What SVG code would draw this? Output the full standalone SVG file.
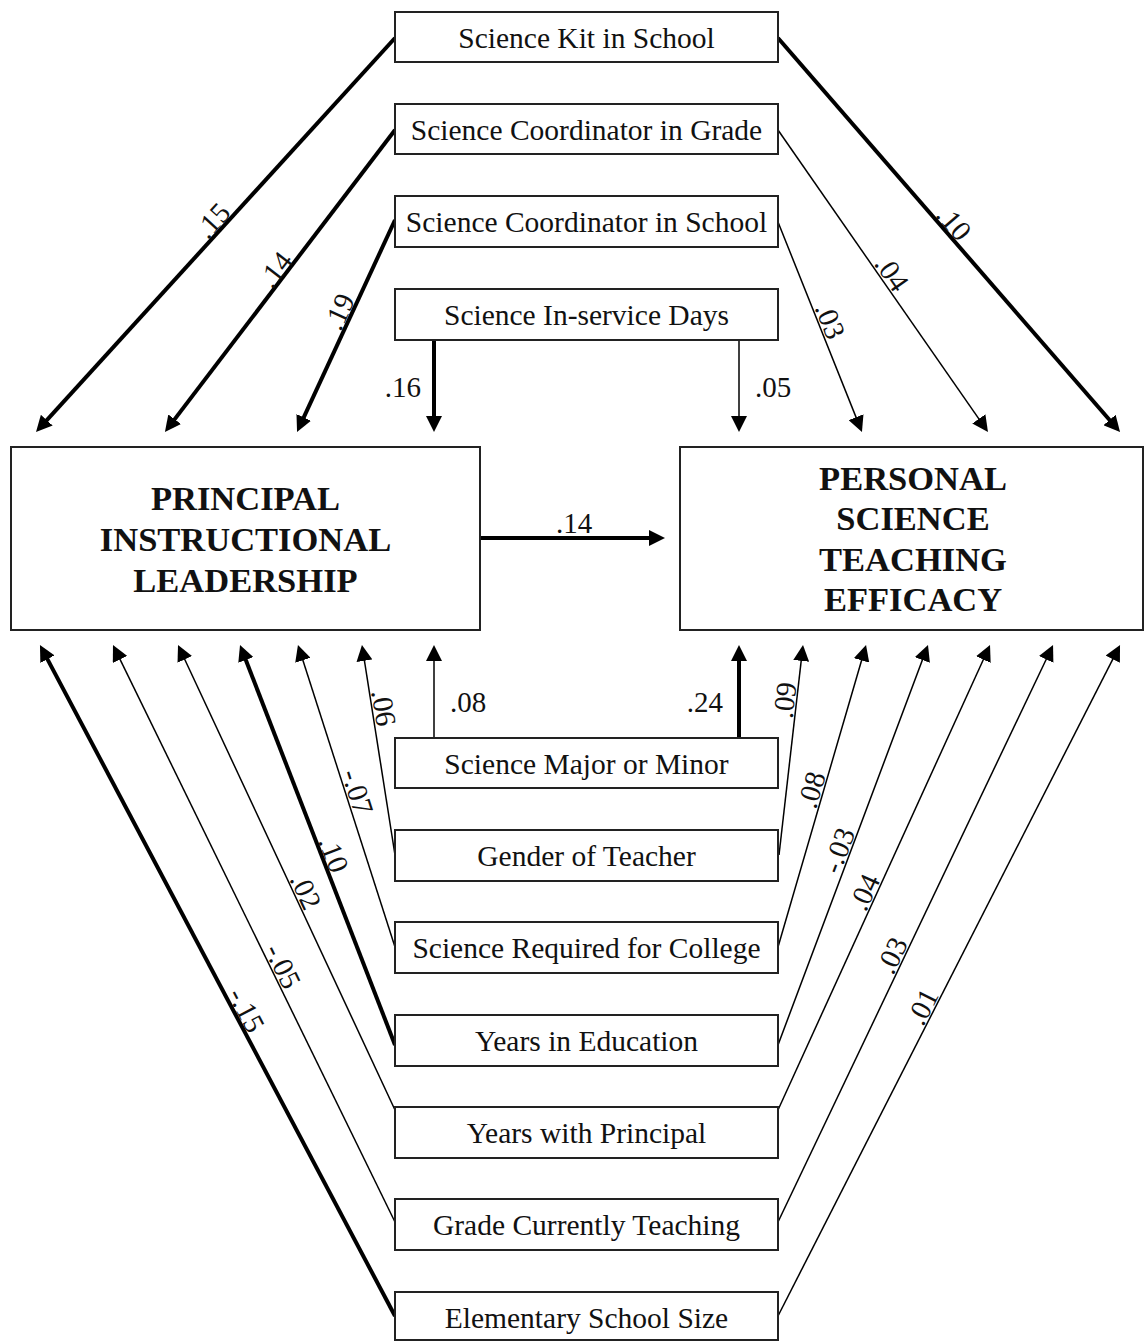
<svg xmlns="http://www.w3.org/2000/svg" width="1146" height="1341" viewBox="0 0 1146 1341">
<defs>
<style>
.box{fill:#fff;stroke:#222;stroke-width:2}
.nt{font-family:"Liberation Serif","Times New Roman",serif;font-size:29.5px;fill:#111;text-anchor:middle}
.big{font-family:"Liberation Serif","Times New Roman",serif;font-size:34.5px;font-weight:bold;fill:#111;text-anchor:middle}
.lbl{font-family:"Liberation Serif","Times New Roman",serif;font-size:29px;fill:#111;text-anchor:middle}
.thick{stroke:#000;stroke-width:4;fill:none;marker-end:url(#ah)}
.thin{stroke:#000;stroke-width:1.5;fill:none;marker-end:url(#ah)}
</style>
<marker id="ah" markerUnits="userSpaceOnUse" markerWidth="16" markerHeight="16" refX="8" refY="8" orient="auto">
<path d="M0,0 L16,8 L0,16 Z" fill="#000"/>
</marker>
</defs>
<rect width="1146" height="1341" fill="#fff"/>

<g id="connectors">
<line class="thick" x1="395" y1="38" x2="41.4" y2="426.1"/>
<line class="thick" x1="395" y1="130" x2="169.8" y2="425.6"/>
<line class="thick" x1="395" y1="220" x2="300.4" y2="424.7"/>
<line class="thick" x1="434" y1="340" x2="434" y2="424"/>
<line class="thin" x1="739" y1="340" x2="739" y2="424"/>
<line class="thin" x1="778" y1="222" x2="859" y2="424.6"/>
<line class="thin" x1="778" y1="130" x2="983.4" y2="425.4"/>
<line class="thick" x1="778" y1="38" x2="1114.8" y2="426"/>
<line class="thick" x1="480" y1="538" x2="657" y2="538"/>
<line class="thin" x1="434" y1="738" x2="434" y2="653"/>
<line class="thin" x1="395" y1="855" x2="363.2" y2="652.9"/>
<line class="thin" x1="395" y1="947" x2="300.4" y2="652.6"/>
<line class="thick" x1="395" y1="1045" x2="242.9" y2="652.5"/>
<line class="thin" x1="395" y1="1110" x2="181.4" y2="652.2"/>
<line class="thin" x1="395" y1="1222" x2="116.5" y2="652.2"/>
<line class="thick" x1="395" y1="1316" x2="43.7" y2="652.1"/>
<line class="thick" x1="739" y1="738" x2="739" y2="653"/>
<line class="thin" x1="779" y1="855" x2="802.1" y2="652.9"/>
<line class="thin" x1="778" y1="947" x2="863.8" y2="652.7"/>
<line class="thin" x1="778" y1="1045" x2="925.2" y2="652.5"/>
<line class="thin" x1="778" y1="1110" x2="986.7" y2="652.3"/>
<line class="thin" x1="778" y1="1222" x2="1049.6" y2="652.2"/>
<line class="thin" x1="778" y1="1316" x2="1116.4" y2="652.1"/>

<text class="lbl" transform="translate(221.4,228.5) rotate(-47.7)" y="-2">.15</text>
<text class="lbl" transform="translate(284.7,276.9) rotate(-52.3)" y="-2">.14</text>
<text class="lbl" transform="translate(349.8,316.7) rotate(-65.4)" y="-2">.19</text>
<text class="lbl" x="421" y="397" style="text-anchor:end">.16</text>
<text class="lbl" x="755" y="397" style="text-anchor:start">.05</text>
<text class="lbl" transform="translate(819.3,325.2) rotate(68.2)" y="-2">.03</text>
<text class="lbl" transform="translate(882.2,279.8) rotate(55.2)" y="-2">.04</text>
<text class="lbl" transform="translate(945.2,230.7) rotate(49)" y="-2">.10</text>
<text class="lbl" x="574" y="533">.14</text>
<text class="lbl" x="450" y="712" style="text-anchor:start">.08</text>
<text class="lbl" x="723" y="712" style="text-anchor:end">.24</text>
<text class="lbl" transform="translate(372.2,709.8) rotate(81.1)" y="-2">.06</text>
<text class="lbl" transform="translate(346.3,795.4) rotate(72.2)" y="-2">-.07</text>
<text class="lbl" transform="translate(322.7,858.5) rotate(68.8)" y="-2">.10</text>
<text class="lbl" transform="translate(295.2,896.2) rotate(65)" y="-2">.02</text>
<text class="lbl" transform="translate(272.4,971.2) rotate(64)" y="-2">-.05</text>
<text class="lbl" transform="translate(236.1,1015.5) rotate(62.1)" y="-2">-.15</text>
<text class="lbl" transform="translate(796.5,701.5) rotate(-83.5)" y="-2">.09</text>
<text class="lbl" transform="translate(822.8,793.1) rotate(-73.8)" y="-2">.08</text>
<text class="lbl" transform="translate(849.4,854.5) rotate(-69.4)" y="-2">-.03</text>
<text class="lbl" transform="translate(875,897.2) rotate(-65.5)" y="-2">.04</text>
<text class="lbl" transform="translate(902.6,960.5) rotate(-64.5)" y="-2">.03</text>
<text class="lbl" transform="translate(932.9,1012.1) rotate(-63)" y="-2">.01</text>
</g>

<g id="n-kit"><rect class="box" x="395" y="12" width="383" height="50"/><text class="nt" x="586.5" y="48">Science Kit in School</text></g>
<g id="n-coordgrade"><rect class="box" x="395" y="104" width="383" height="50"/><text class="nt" x="586.5" y="140">Science Coordinator in Grade</text></g>
<g id="n-coordschool"><rect class="box" x="395" y="196" width="383" height="51"/><text class="nt" x="586.5" y="232">Science Coordinator in School</text></g>
<g id="n-inservice"><rect class="box" x="395" y="289" width="383" height="51"/><text class="nt" x="586.5" y="325">Science In-service Days</text></g>

<g id="n-leadership"><rect class="box" x="11" y="447" width="469" height="183"/>
<text class="big" x="245.5" y="510">PRINCIPAL</text>
<text class="big" x="245.5" y="551">INSTRUCTIONAL</text>
<text class="big" x="245.5" y="592">LEADERSHIP</text></g>
<g id="n-efficacy"><rect class="box" x="680" y="447" width="463" height="183"/>
<text class="big" x="913" y="490">PERSONAL</text>
<text class="big" x="913" y="530">SCIENCE</text>
<text class="big" x="913" y="571">TEACHING</text>
<text class="big" x="913" y="611">EFFICACY</text></g>

<g id="n-major"><rect class="box" x="395" y="738" width="383" height="50"/><text class="nt" x="586.5" y="774">Science Major or Minor</text></g>
<g id="n-gender"><rect class="box" x="395" y="830" width="383" height="51"/><text class="nt" x="586.5" y="866">Gender of Teacher</text></g>
<g id="n-required"><rect class="box" x="395" y="922" width="383" height="51"/><text class="nt" x="586.5" y="958">Science Required for College</text></g>
<g id="n-yearsedu"><rect class="box" x="395" y="1015" width="383" height="51"/><text class="nt" x="586.5" y="1051">Years in Education</text></g>
<g id="n-yearsprin"><rect class="box" x="395" y="1107" width="383" height="51"/><text class="nt" x="586.5" y="1143">Years with Principal</text></g>
<g id="n-grade"><rect class="box" x="395" y="1199" width="383" height="51"/><text class="nt" x="586.5" y="1235">Grade Currently Teaching</text></g>
<g id="n-size"><rect class="box" x="395" y="1292" width="383" height="48"/><text class="nt" x="586.5" y="1328">Elementary School Size</text></g>
</svg>
